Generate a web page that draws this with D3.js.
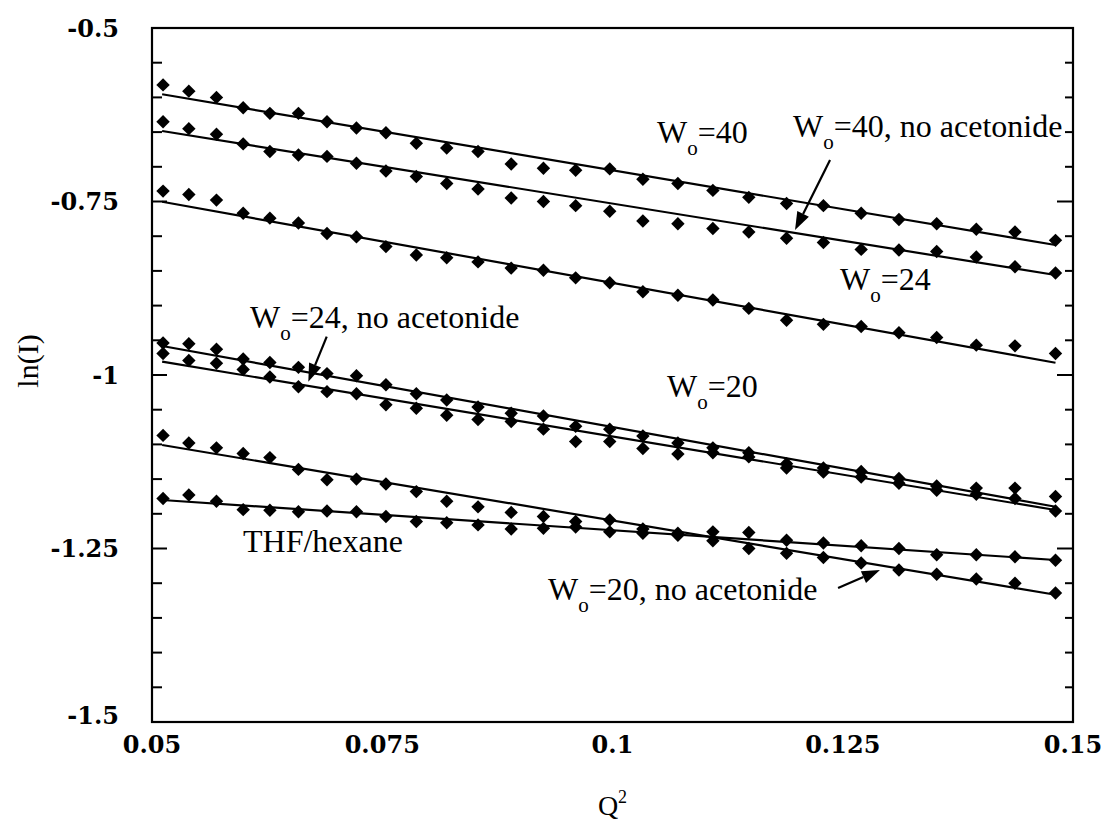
<!DOCTYPE html>
<html>
<head>
<meta charset="utf-8">
<script src="https://cdn.jsdelivr.net/npm/d3@7"></script>
<style>
  html, body { margin: 0; padding: 0; background: #fff; }
  svg { display: block; }
  text { font-family: "Liberation Serif", "Times New Roman", serif; fill: #000; }
  .tick-label { font-family: "DejaVu Serif", "Liberation Serif", serif; font-weight: bold; }
</style>
</head>
<body>
<svg id="chart" width="1110" height="824"></svg>
<script>
// ---- data ----
const qSquared = [0.0512, 0.0540, 0.0570, 0.0599, 0.0628, 0.0659, 0.0690, 0.0722, 0.0754, 0.0787,
                  0.0820, 0.0854, 0.0890, 0.0925, 0.0960, 0.0997, 0.1033, 0.1071, 0.1109, 0.1148,
                  0.1189, 0.1229, 0.1270, 0.1311, 0.1352, 0.1395, 0.1437, 0.1481];

const w40 = [-0.582, -0.591, -0.600, -0.615, -0.623, -0.623, -0.635, -0.644, -0.651, -0.666,
             -0.673, -0.678, -0.696, -0.702, -0.705, -0.703, -0.718, -0.724, -0.734, -0.744,
             -0.753, -0.756, -0.767, -0.776, -0.782, -0.790, -0.794, -0.806];

const w40NoAcetonide = [-0.635, -0.645, -0.653, -0.667, -0.678, -0.683, -0.685, -0.695, -0.706, -0.714,
                        -0.724, -0.732, -0.745, -0.750, -0.756, -0.764, -0.778, -0.782, -0.789, -0.794,
                        -0.803, -0.809, -0.819, -0.820, -0.822, -0.830, -0.844, -0.853];

const w24 = [-0.735, -0.740, -0.748, -0.767, -0.774, -0.781, -0.796, -0.801, -0.815, -0.827,
             -0.831, -0.837, -0.846, -0.849, -0.860, -0.867, -0.880, -0.885, -0.892, -0.904,
             -0.921, -0.927, -0.930, -0.939, -0.946, -0.957, -0.958, -0.969];

const w20 = [-0.954, -0.955, -0.963, -0.977, -0.982, -0.989, -0.998, -1.001, -1.014, -1.027,
             -1.036, -1.046, -1.055, -1.059, -1.074, -1.078, -1.088, -1.098, -1.105, -1.112,
             -1.128, -1.134, -1.139, -1.149, -1.160, -1.163, -1.163, -1.175];

const w24NoAcetonide = [-0.969, -0.979, -0.983, -0.992, -1.003, -1.017, -1.024, -1.027, -1.043, -1.048,
                        -1.058, -1.064, -1.067, -1.078, -1.096, -1.096, -1.106, -1.114, -1.112, -1.118,
                        -1.134, -1.140, -1.147, -1.156, -1.166, -1.172, -1.178, -1.196];

const w20NoAcetonide = [-1.087, -1.098, -1.105, -1.113, -1.119, -1.136, -1.151, -1.150, -1.157, -1.168,
                        -1.182, -1.190, -1.198, -1.204, -1.211, -1.209, -1.222, -1.231, -1.239, -1.250,
                        -1.257, -1.263, -1.271, -1.281, -1.287, -1.294, -1.300, -1.314];

const thfHexane = [-1.178, -1.173, -1.182, -1.194, -1.195, -1.197, -1.196, -1.197, -1.204, -1.211,
                   -1.213, -1.216, -1.222, -1.221, -1.219, -1.226, -1.228, -1.228, -1.226, -1.227,
                   -1.238, -1.242, -1.246, -1.250, -1.259, -1.259, -1.262, -1.267];

// fitted straight lines: value at start and end of the fitted range
const fitRange = [0.0511, 0.1481];
const fitStart = [-0.5955, -0.6484, -0.7503, -0.9582, -0.9808, -1.1009, -1.1801];
const fitEnd   = [-0.8127, -0.8559, -0.9823, -1.1898, -1.1945, -1.3166, -1.2666];

const seriesList = [w40, w40NoAcetonide, w24, w20, w24NoAcetonide, w20NoAcetonide, thfHexane];

const yTickLabels = ["-1.5", "-1.25", "-1", "-0.75", "-0.5"];
const yTickValues = [-1.5, -1.25, -1, -0.75, -0.5];
const xTickLabels = ["0.05", "0.075", "0.1", "0.125", "0.15"];
const xTickValues = [0.05, 0.075, 0.1, 0.125, 0.15];

// annotations
const labelMain = ["W", "W", "W", "W", "W", "THF/hexane", "W"];
const labelSub  = ["o", "o", "o", "o", "o", "", "o"];
const labelRest = ["=40", "=40, no acetonide", "=24", "=24, no acetonide", "=20", "", "=20, no acetonide"];
const labelX = [0.10483, 0.11960, 0.12470, 0.06064, 0.10592, 0.05988, 0.09300];
const labelY = [-0.6657, -0.6571, -0.8775, -0.9323, -1.0317, -1.2550, -1.3242];

// arrows: from (x,y) to (x,y) in data units
const arrowFromX = [0.12362, 0.06897, 0.12449];
const arrowFromY = [-0.6902, -0.9448, -1.3069];
const arrowToX   = [0.11982, 0.06697, 0.12904];
const arrowToY   = [-0.7911, -1.0097, -1.2810];

// ---- drawing ----
const svg = d3.select("#chart");
const x = d3.scaleLinear().domain([0.05, 0.15]).range([152, 1073]);
const y = d3.scaleLinear().domain([-1.5, -0.5]).range([722, 28]);

const plot = svg.append("g");

// fitted lines
fitStart.forEach((s, i) => {
  plot.append("line")
    .attr("x1", x(fitRange[0])).attr("y1", y(s))
    .attr("x2", x(fitRange[1])).attr("y2", y(fitEnd[i]))
    .attr("stroke", "#000").attr("stroke-width", 2.2);
});

// diamonds
const diamond = d3.symbol().type(d3.symbolSquare).size(90);
seriesList.forEach(series => {
  plot.selectAll(null)
    .data(series.map((v, i) => [qSquared[i], v]))
    .enter().append("path")
    .attr("d", diamond)
    .attr("transform", d => `translate(${x(d[0])},${y(d[1])}) rotate(45)`)
    .attr("fill", "#000");
});

// frame
const [x0, x1] = x.range();
const [yb, yt] = y.range();
svg.append("rect")
  .attr("x", x0).attr("y", yt).attr("width", x1 - x0).attr("height", yb - yt)
  .attr("fill", "none").attr("stroke", "#000").attr("stroke-width", 2.2);

// y ticks (left and right), minor every 0.05
const yMinor = d3.range(0, 21).map(i => -1.5 + i * 0.05);
yMinor.forEach((v, i) => {
  const major = i % 5 === 0;
  svg.append("line").attr("x1", x0).attr("x2", x0 + (major ? 15 : 10))
    .attr("y1", y(v)).attr("y2", y(v)).attr("stroke", "#000").attr("stroke-width", 2);
  svg.append("line").attr("x1", x1).attr("x2", x1 - (major ? 16 : 8))
    .attr("y1", y(v)).attr("y2", y(v)).attr("stroke", "#000").attr("stroke-width", 2);
});

// y tick labels
yTickValues.forEach((v, i) => {
  const cy = Math.min(Math.max(y(v), yt - 4), yb - 7);
  svg.append("text")
    .attr("class", "tick-label")
    .attr("x", 119).attr("y", cy)
    .attr("dy", "0.36em")
    .attr("text-anchor", "end")
    .attr("font-size", 24)
    .text(yTickLabels[i]);
});

// x tick labels
xTickValues.forEach((v, i) => {
  svg.append("text")
    .attr("class", "tick-label")
    .attr("x", x(v)).attr("y", 753)
    .attr("text-anchor", "middle")
    .attr("font-size", 24)
    .text(xTickLabels[i]);
});

// axis titles
svg.append("text")
  .attr("transform", `translate(38, ${(yt + yb) / 2 - 14}) rotate(-90)`)
  .attr("text-anchor", "middle")
  .attr("font-size", 30)
  .text("ln(I)");

const qt = svg.append("text")
  .attr("x", (x0 + x1) / 2).attr("y", 815)
  .attr("text-anchor", "middle")
  .attr("font-size", 28);
qt.append("tspan").text("Q");
qt.append("tspan").attr("font-size", 18).attr("dy", -12).text("2");

// annotations
labelMain.forEach((m, i) => {
  const t = svg.append("text")
    .attr("x", x(labelX[i])).attr("y", y(labelY[i]))
    .attr("font-size", 32);
  t.append("tspan").text(m);
  if (labelSub[i]) {
    t.append("tspan").attr("font-size", 21).attr("dy", 12).text(labelSub[i]);
    t.append("tspan").attr("dy", -12).text(labelRest[i]);
  }
});

// arrows
arrowFromX.forEach((fx, i) => {
  const ax = x(fx), ay = y(arrowFromY[i]);
  const bx = x(arrowToX[i]), by = y(arrowToY[i]);
  const ang = Math.atan2(by - ay, bx - ax);
  const headLen = 18, headW = 6.5;
  const hx = bx - headLen * Math.cos(ang), hy = by - headLen * Math.sin(ang);
  svg.append("line").attr("x1", ax).attr("y1", ay).attr("x2", hx).attr("y2", hy)
    .attr("stroke", "#000").attr("stroke-width", 2.2);
  const px = -Math.sin(ang) * headW, py = Math.cos(ang) * headW;
  svg.append("path")
    .attr("d", `M${bx},${by} L${hx + px},${hy + py} L${hx - px},${hy - py} Z`)
    .attr("fill", "#000");
});
</script>
</body>
</html>
